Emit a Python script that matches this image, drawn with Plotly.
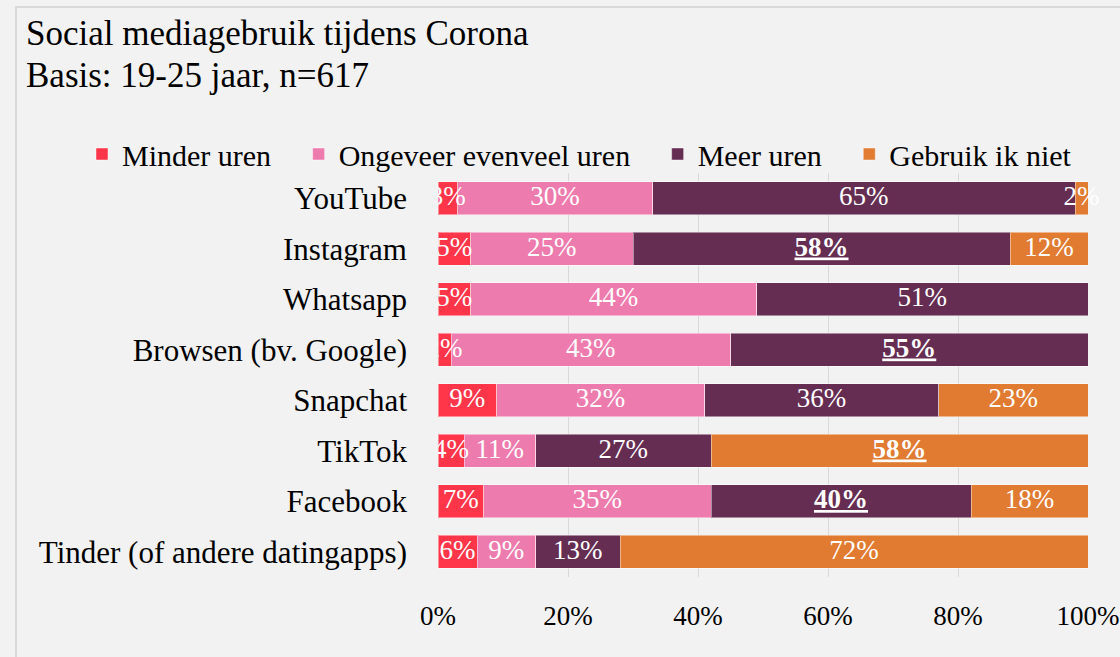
import plotly.graph_objects as go

categories = ['YouTube', 'Instagram', 'Whatsapp', 'Browsen (bv. Google)', 'Snapchat',
              'TikTok', 'Facebook', 'Tinder (of andere datingapps)']

minder = [3, 5, 5, 2, 9, 4, 7, 6]
evenveel = [30, 25, 44, 43, 32, 11, 35, 9]
meer = [65, 58, 51, 55, 36, 27, 40, 13]
niet = [2, 12, 0, 0, 23, 58, 18, 72]

series_names = ['Minder uren', 'Ongeveer evenveel uren', 'Meer uren', 'Gebruik ik niet']
series_values = [minder, evenveel, meer, niet]
colors = ['#FF3549', '#EE7BAE', '#652D52', '#E07B31']

# highlighted (bold + underlined) labels: (series index, category)
highlights = [(2, 'Instagram'), (2, 'Browsen (bv. Google)'), (3, 'TikTok'), (2, 'Facebook')]

FONT = 'Liberation Serif'

# plot area in pixels, used to place the paper-referenced decorations
L, R, T, B = 438, 32, 173, 80
W, H = 1120, 657
PW, PH = W - L - R, H - T - B


def px_x(px):
    return (px - L) / PW


def px_y(py):
    return 1 - (py - T) / PH


fig = go.Figure()

for i, (name, vals, col) in enumerate(zip(series_names, series_values, colors)):
    # a bit of extra room after each legend entry, like the original
    legend_name = name + ('\u00a0' * 3 if i < 3 else '')
    fig.add_trace(go.Bar(
        y=categories,
        x=vals,
        orientation='h',
        name=legend_name,
        marker=dict(color=col, line=dict(width=1, color='rgba(255,255,255,0.45)')),
        hovertemplate='%{y}: %{x}%<extra>' + name + '</extra>'
    ))

# data labels on top of all bars (centre of each stacked segment)
running = [0] * len(categories)
for i, vals in enumerate(series_values):
    xs, ys, labels = [], [], []
    for j, (cat, v) in enumerate(zip(categories, vals)):
        if v > 0:
            xs.append(running[j] + v / 2)
            ys.append(cat)
            if (i, cat) in highlights:
                labels.append(f'<b><u>{v}%</u></b>')
            else:
                labels.append(f'{v}%')
        running[j] += v
    fig.add_trace(go.Scatter(
        x=xs, y=ys, text=labels,
        mode='text',
        textposition='middle center',
        textfont=dict(family=FONT, size=27, color='white'),
        cliponaxis=(i == 0),
        showlegend=False,
        hoverinfo='skip',
    ))

fig.update_xaxes(
    range=[0, 100],
    dtick=20,
    ticksuffix='%',
    showgrid=True,
    gridcolor='#D9D9D9',
    gridwidth=1,
    zeroline=False,
    showline=False,
    tickfont=dict(family=FONT, size=27, color='black'),
    ticklabelstandoff=20,
)

fig.update_yaxes(
    autorange='reversed',
    showgrid=False,
    tickfont=dict(family=FONT, size=31, color='black'),
    ticklabelstandoff=30,
)

fig.update_layout(
    barmode='stack',
    bargap=0.34,
    width=W,
    height=H,
    margin=dict(l=L, r=R, t=T, b=B, autoexpand=False),
    paper_bgcolor='#F2F2F2',
    plot_bgcolor='#F2F2F2',
    font=dict(family=FONT, size=31, color='black'),
    legend=dict(
        orientation='h',
        x=px_x(82), xref='paper', xanchor='left',
        y=px_y(128), yref='paper', yanchor='top',
        font=dict(family=FONT, size=30, color='black'),
        traceorder='normal',
        bgcolor='rgba(0,0,0,0)',
    ),
    annotations=[
        dict(text='Social mediagebruik tijdens Corona', xref='paper', yref='paper',
             x=px_x(24), y=px_y(33), xanchor='left', yanchor='middle', showarrow=False,
             font=dict(family=FONT, size=35, color='black')),
        dict(text='Basis: 19-25 jaar, n=617', xref='paper', yref='paper',
             x=px_x(24), y=px_y(75), xanchor='left', yanchor='middle', showarrow=False,
             font=dict(family=FONT, size=35, color='black')),
    ],
    shapes=[dict(
        type='rect', xref='paper', yref='paper',
        x0=px_x(16), x1=1.3, y0=-0.5, y1=px_y(7),
        line=dict(color='#D9D9D9', width=2),
        fillcolor='rgba(0,0,0,0)', layer='below',
    )],
    showlegend=True,
)

fig.write_html('out.html', config={'displayModeBar': False},
               post_script="document.body.style.margin='0';"
                           "document.body.style.background='#F2F2F2';")
